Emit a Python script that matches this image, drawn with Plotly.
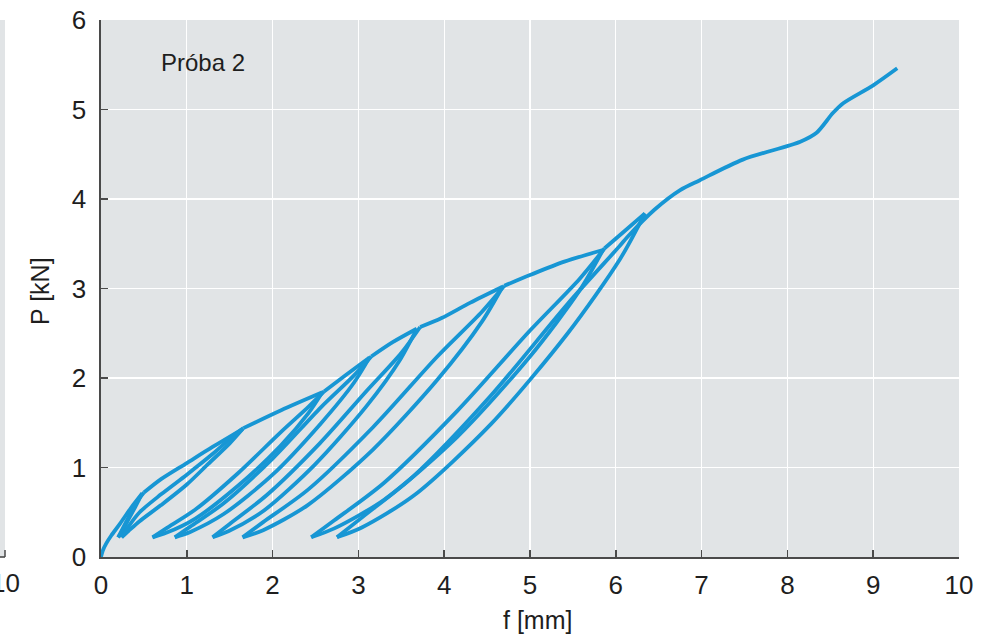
import plotly.graph_objects as go

# ---- data (f in mm, P in kN) ----
# initial loading and small first loop
env0_f = [0.0, 0.02, 0.06, 0.12, 0.22, 0.35, 0.48]
env0_P = [0.0, 0.07, 0.15, 0.24, 0.37, 0.55, 0.71]
unl1_f = [0.48, 0.40, 0.32, 0.25, 0.20]
unl1_P = [0.71, 0.56, 0.42, 0.29, 0.22]
rel1_f = [0.20, 0.26, 0.34, 0.42, 0.50]
rel1_P = [0.22, 0.33, 0.48, 0.62, 0.72]
env1_f = [0.50, 0.70, 1.00, 1.30, 1.65]
env1_P = [0.72, 0.87, 1.05, 1.23, 1.43]
# cycle 2
unl2_f = [1.65, 1.50, 1.25, 1.00, 0.70, 0.45, 0.32, 0.24]
unl2_P = [1.43, 1.27, 1.04, 0.81, 0.58, 0.40, 0.29, 0.22]
rel2_f = [0.24, 0.32, 0.45, 0.70, 1.00, 1.30, 1.55, 1.66]
rel2_P = [0.22, 0.34, 0.50, 0.70, 0.92, 1.15, 1.36, 1.44]
env2_f = [1.66, 2.10, 2.58]
env2_P = [1.44, 1.64, 1.84]
# cycle 3
unl3_f = [2.58, 2.42, 2.09, 1.59, 1.10, 0.76, 0.60]
unl3_P = [1.84, 1.61, 1.24, 0.79, 0.43, 0.27, 0.22]
rel3_f = [0.60, 0.76, 1.10, 1.59, 2.09, 2.42, 2.60]
rel3_P = [0.22, 0.32, 0.53, 0.93, 1.39, 1.68, 1.85]
env3_f = [2.60, 2.85, 3.13]
env3_P = [1.85, 2.03, 2.23]
# cycle 4
unl4_f = [3.13, 2.95, 2.56, 2.00, 1.43, 1.04, 0.86]
unl4_P = [2.23, 1.95, 1.49, 0.92, 0.48, 0.28, 0.22]
rel4_f = [0.86, 1.04, 1.43, 2.00, 2.56, 2.95, 3.15]
rel4_P = [0.22, 0.34, 0.60, 1.10, 1.67, 2.03, 2.24]
env4_f = [3.15, 3.40, 3.68]
env4_P = [2.24, 2.40, 2.55]
# cycle 5
unl5_f = [3.68, 3.49, 3.09, 2.49, 1.90, 1.49, 1.30]
unl5_P = [2.55, 2.21, 1.68, 1.03, 0.52, 0.29, 0.22]
rel5_f = [1.30, 1.50, 1.93, 2.55, 3.10, 3.50, 3.72]
rel5_P = [0.22, 0.37, 0.69, 1.27, 1.86, 2.28, 2.57]
env5_f = [3.72, 3.97, 4.30, 4.68]
env5_P = [2.57, 2.67, 2.84, 3.02]
# cycle 6
unl6_f = [4.68, 4.44, 3.92, 3.17, 2.41, 1.89, 1.65]
unl6_P = [3.02, 2.63, 1.98, 1.20, 0.58, 0.30, 0.22]
rel6_f = [1.65, 1.89, 2.41, 3.17, 3.92, 4.44, 4.70]
rel6_P = [0.22, 0.39, 0.75, 1.45, 2.24, 2.74, 3.03]
env6_f = [4.70, 5.00, 5.40, 5.85]
env6_P = [3.03, 3.15, 3.30, 3.43]
# cycle 7
unl7_f = [5.85, 5.58, 5.00, 4.15, 3.30, 2.72, 2.45]
unl7_P = [3.43, 2.98, 2.24, 1.34, 0.64, 0.32, 0.22]
rel7_f = [2.45, 2.72, 3.30, 4.15, 5.00, 5.58, 5.87]
rel7_P = [0.22, 0.41, 0.83, 1.63, 2.53, 3.11, 3.45]
env7_f = [5.87, 6.10, 6.34]
env7_P = [3.45, 3.64, 3.84]
# cycle 8 and final loading
unl8_f = [6.34, 6.05, 5.44, 4.55, 3.65, 3.04, 2.75]
unl8_P = [3.84, 3.33, 2.50, 1.49, 0.69, 0.33, 0.22]
rel8_f = [2.75, 3.04, 3.65, 4.55, 5.44, 6.05, 6.13, 6.45, 6.75, 6.98, 7.48,
          8.15, 8.34, 8.53, 8.65, 9.00, 9.28]
rel8_P = [0.22, 0.44, 0.91, 1.81, 2.83, 3.48, 3.57, 3.88, 4.10, 4.21, 4.44,
          4.64, 4.74, 4.96, 5.07, 5.27, 5.46]

segments = [
    (env0_f, env0_P), (unl1_f, unl1_P), (rel1_f, rel1_P), (env1_f, env1_P),
    (unl2_f, unl2_P), (rel2_f, rel2_P), (env2_f, env2_P),
    (unl3_f, unl3_P), (rel3_f, rel3_P), (env3_f, env3_P),
    (unl4_f, unl4_P), (rel4_f, rel4_P), (env4_f, env4_P),
    (unl5_f, unl5_P), (rel5_f, rel5_P), (env5_f, env5_P),
    (unl6_f, unl6_P), (rel6_f, rel6_P), (env6_f, env6_P),
    (unl7_f, unl7_P), (rel7_f, rel7_P), (env7_f, env7_P),
    (unl8_f, unl8_P), (rel8_f, rel8_P),
]

x_ticks = [0, 1, 2, 3, 4, 5, 6, 7, 8, 9, 10]
y_ticks = [0, 1, 2, 3, 4, 5, 6]

BLUE = "#1796d4"
BG = "#e1e4e6"
AX = "#4a4a4a"
FONT = "Liberation Sans"
TXT = "#1e1e1e"

fig = go.Figure()
for f, p in segments:
    fig.add_trace(go.Scatter(
        x=f, y=p, mode="lines",
        line=dict(color=BLUE, width=3.8, shape="spline", smoothing=0.8),
        showlegend=False, hoverinfo="skip",
    ))

W, H = 994, 638
ML, MR, MT, MB = 101, 35, 20, 81
PW = W - ML - MR
PH = H - MT - MB

def px_x(px):
    return (px - ML) / PW

def px_y(py):
    return (H - MB - py) / PH

fig.update_layout(
    width=W, height=H,
    margin=dict(l=ML, r=MR, t=MT, b=MB, pad=0, autoexpand=False),
    paper_bgcolor="white",
    plot_bgcolor=BG,
    font=dict(family=FONT, color=TXT),
    xaxis=dict(
        range=[0, 10], tickvals=x_ticks, ticktext=[str(v) for v in x_ticks],
        showgrid=True, gridcolor="white", gridwidth=1.3, zeroline=False,
        showline=True, linecolor=AX, linewidth=1.6,
        ticks="inside", ticklen=7, tickwidth=1.5, tickcolor=AX,
        tickfont=dict(size=26, family=FONT, color=TXT),
        ticklabelstandoff=4, automargin=False,
        fixedrange=True,
    ),
    yaxis=dict(
        range=[0, 6], tickvals=y_ticks, ticktext=[str(v) for v in y_ticks],
        showgrid=True, gridcolor="white", gridwidth=1.3, zeroline=False,
        showline=True, linecolor=AX, linewidth=1.6,
        ticks="inside", ticklen=7, tickwidth=1.5, tickcolor=AX,
        tickfont=dict(size=26, family=FONT, color=TXT),
        ticklabelstandoff=8, automargin=False,
        fixedrange=True,
    ),
)

# axis titles and panel label
fig.add_annotation(text="f [mm]", xref="paper", yref="paper",
                   x=px_x(537), y=px_y(620), showarrow=False,
                   font=dict(size=25, family=FONT, color=TXT),
                   xanchor="center", yanchor="middle")
fig.add_annotation(text="P [kN]", xref="paper", yref="paper",
                   x=px_x(40), y=px_y(291), showarrow=False, textangle=-90,
                   font=dict(size=25, family=FONT, color=TXT),
                   xanchor="center", yanchor="middle")
fig.add_annotation(text="Próba 2", xref="x", yref="y",
                   x=0.68, y=5.52, showarrow=False,
                   font=dict(size=24, family=FONT, color=TXT),
                   xanchor="left", yanchor="middle")

# edge of the neighbouring panel on the left
fig.add_shape(type="rect", xref="paper", yref="paper",
              x0=px_x(0), x1=px_x(5), y0=0, y1=1,
              fillcolor=BG, line=dict(width=0), layer="below")
fig.add_shape(type="line", xref="paper", yref="paper",
              x0=px_x(0), x1=px_x(5), y0=0, y1=0,
              line=dict(color=AX, width=1.6))
fig.add_shape(type="line", xref="paper", yref="paper",
              x0=px_x(5), x1=px_x(5), y0=0, y1=7 / PH,
              line=dict(color=AX, width=1.5))
fig.add_annotation(text="10", xref="paper", yref="paper",
                   x=px_x(5), y=px_y(583), showarrow=False,
                   font=dict(size=26, family=FONT, color=TXT),
                   xanchor="center", yanchor="middle")

fig.write_html(
    "out.html",
    config={"displayModeBar": False, "staticPlot": True},
    post_script="document.body.style.margin='0';document.body.style.overflow='hidden';",
)
